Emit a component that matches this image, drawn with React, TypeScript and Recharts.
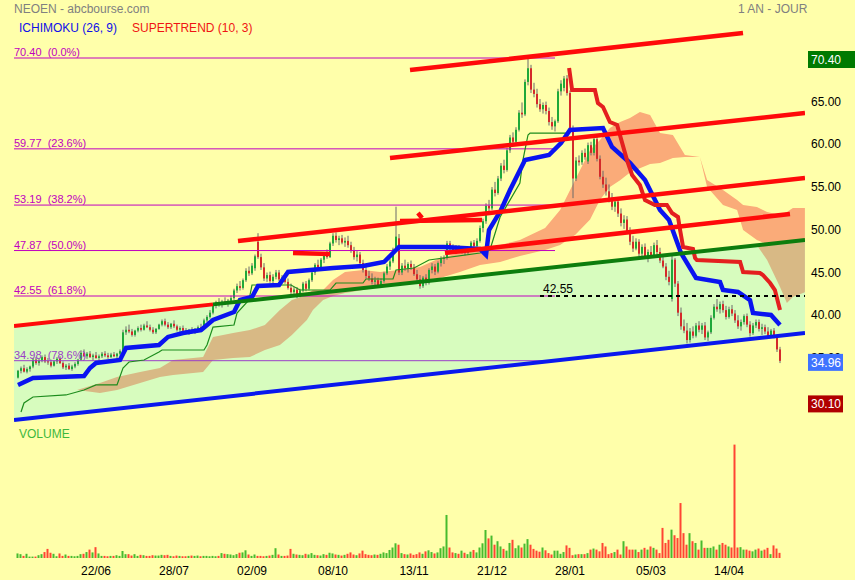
import React from "react";
import { ComposedChart, Bar, Line, Area, XAxis, YAxis, Cell, LabelList } from "recharts";

const W = 855;
const H = 580;
const BG = "#FFFFAA";
const FONT = "Arial, 'Liberation Sans', Helvetica, sans-serif";

// x runs in trading days; the plot spans a little past the last candle
const X_MIN = -4 / 3;
const X_MAX = 787 / 3;

const tickIdx = [26, 52, 78, 105, 132, 158, 184, 211, 237];
const tickLabels = ["22/06", "28/07", "02/09", "08/10", "13/11", "21/12", "28/01", "05/03", "14/04"];

// daily candles: open, high, low, close
const ohlc = [
  [33.0,33.9,32.9,33.8],[33.8,34.3,33.5,34.1],[34.1,34.5,33.6,33.7],[33.7,34.2,33.5,34.0],[34.0,34.4,33.7,34.3],[34.3,35.3,34.1,35.1],[35.1,35.4,34.5,34.7],[34.7,35.2,34.4,35.0],[35.0,35.6,34.8,35.4],[35.4,35.7,34.7,34.9],
  [34.9,35.3,34.5,34.8],[34.8,35.1,34.2,34.4],[34.4,35.0,34.3,34.9],[34.9,35.4,34.6,35.2],[35.2,35.5,34.6,34.7],[34.7,34.9,34.0,34.2],[34.2,34.6,33.9,34.4],[34.4,34.7,33.9,34.0],[34.0,34.5,33.8,34.3],[34.3,34.8,34.1,34.6],
  [34.6,35.2,34.4,35.1],[35.1,36.2,35.0,35.9],[35.9,36.3,35.4,35.5],[35.5,36.0,35.2,35.8],[35.8,36.1,35.3,35.4],[35.4,35.8,35.0,35.6],[35.6,36.0,35.2,35.3],[35.3,35.7,35.0,35.5],[35.5,36.0,35.3,35.8],[35.8,36.1,35.4,35.6],
  [35.6,35.9,35.2,35.4],[35.4,35.9,35.3,35.7],[35.7,36.0,35.4,35.5],[35.5,35.9,35.2,35.8],[35.8,36.3,35.6,36.1],[36.1,38.6,36.0,38.3],[38.3,39.0,38.0,38.6],[38.6,39.2,38.2,38.4],[38.4,38.7,37.8,38.0],[38.0,38.6,37.8,38.5],
  [38.5,39.0,38.3,38.8],[38.8,39.2,38.4,38.6],[38.6,39.3,38.5,39.1],[39.1,39.6,38.8,38.9],[38.9,39.2,38.4,38.6],[38.6,38.9,38.1,38.3],[38.3,38.8,38.1,38.7],[38.7,39.3,38.6,39.2],[39.2,39.8,39.0,39.6],[39.6,39.9,39.0,39.2],
  [39.2,39.5,38.7,38.9],[38.9,39.4,38.7,39.3],[39.3,39.7,38.8,39.0],[39.0,39.2,38.4,38.6],[38.6,39.0,38.3,38.8],[38.8,39.1,38.4,38.5],[38.5,38.8,38.1,38.3],[38.3,38.7,38.0,38.6],[38.6,38.9,38.2,38.4],[38.4,38.8,38.1,38.7],
  [38.7,39.1,38.5,38.9],[38.9,39.3,38.6,38.8],[38.8,39.9,38.7,39.7],[39.7,40.3,39.5,40.1],[40.1,40.9,39.9,40.6],[40.6,41.6,40.4,41.4],[41.4,42.0,41.1,41.8],[41.8,42.3,41.3,41.5],[41.5,42.1,41.2,41.9],[41.9,42.4,41.5,41.7],
  [41.7,42.2,41.3,42.0],[42.0,42.6,41.7,42.3],[42.3,43.4,42.1,43.2],[43.2,44.0,42.9,43.7],[43.7,44.3,43.2,43.5],[43.5,44.6,43.3,44.4],[44.4,45.8,44.2,45.5],[45.5,46.0,44.9,45.2],[45.2,46.4,45.0,46.1],[45.8,47.4,45.5,47.2],
  [48.9,49.9,46.9,47.1],[47.1,47.5,45.6,45.9],[45.9,46.4,44.3,44.6],[44.6,45.3,44.2,45.0],[45.0,45.4,44.1,44.3],[44.3,45.1,44.0,44.8],[44.8,45.6,44.5,45.3],[45.3,45.6,44.3,44.5],[44.5,45.0,44.1,44.7],[44.7,45.2,44.0,44.2],
  [44.2,44.6,43.3,43.5],[43.5,44.0,42.8,43.0],[43.0,43.6,42.5,43.3],[43.3,43.6,42.3,42.6],[42.6,43.4,42.4,43.2],[43.2,44.2,43.0,44.0],[44.0,44.3,43.1,43.4],[43.4,44.6,43.2,44.4],[44.4,45.5,44.2,45.3],[45.3,46.4,45.0,46.2],
  [46.2,46.8,45.6,45.9],[45.9,47.0,45.7,46.8],[46.8,47.6,46.4,47.3],[47.3,48.0,46.9,47.1],[47.1,48.9,47.0,48.7],[48.7,49.9,48.4,49.6],[49.6,50.0,48.8,49.1],[49.1,49.6,48.5,49.3],[49.3,49.7,48.6,48.8],[48.8,49.4,48.3,49.0],
  [49.0,49.6,48.2,48.5],[48.5,48.9,47.6,47.9],[47.9,48.3,46.8,47.1],[47.1,47.8,46.6,47.4],[47.4,47.7,46.2,46.4],[46.4,46.8,45.3,45.6],[45.6,46.1,44.6,44.9],[44.9,45.5,44.3,44.6],[44.6,45.2,43.9,44.2],[44.2,44.8,43.6,44.4],
  [44.4,44.7,43.5,43.8],[43.8,44.6,43.6,44.3],[44.3,45.4,44.1,45.2],[45.2,46.3,45.0,46.0],[46.0,46.9,45.6,46.6],[46.6,48.2,46.4,48.0],[48.0,53.0,47.8,49.5],[49.3,49.8,45.0,45.3],[45.3,46.4,45.0,46.1],[46.1,46.8,45.5,45.8],
  [45.8,46.5,45.3,46.3],[46.3,46.7,45.6,45.9],[45.9,46.3,44.9,45.1],[45.1,45.6,44.2,44.5],[44.5,45.0,43.4,43.7],[43.7,44.9,43.5,44.7],[44.7,45.1,43.8,44.1],[44.1,45.8,43.9,45.6],[45.6,46.4,45.2,46.0],[46.0,46.3,45.0,45.4],
  [45.4,46.6,45.2,46.4],[46.4,47.2,46.0,46.9],[46.9,47.3,46.3,47.0],[47.0,49.0,46.8,48.7],[48.7,49.0,47.8,48.1],[48.1,48.6,47.6,47.9],[47.9,48.5,47.6,48.2],[48.2,48.5,47.6,47.8],[47.8,48.4,47.5,48.1],[48.1,48.4,47.3,47.6],
  [47.6,48.2,47.4,48.0],[48.0,49.0,47.8,48.8],[48.8,49.1,48.1,48.4],[48.4,49.3,48.2,49.0],[49.0,50.8,48.8,50.5],[50.5,51.6,50.0,51.3],[51.3,53.4,51.0,53.1],[53.1,53.8,52.4,52.8],[52.8,55.3,52.6,55.0],[55.0,55.9,54.2,54.6],
  [54.6,56.6,54.4,56.3],[56.3,58.1,56.0,57.8],[57.8,58.5,56.9,57.3],[57.3,59.9,57.1,59.6],[59.6,61.4,59.3,61.1],[61.1,61.7,60.2,60.6],[60.6,62.3,60.4,62.0],[62.0,64.3,61.8,64.0],[64.0,65.2,63.4,63.8],[63.8,67.9,63.6,67.6],
  [67.6,70.4,67.2,69.2],[69.2,69.6,66.3,66.7],[66.7,67.5,65.8,66.2],[66.2,66.8,64.6,65.0],[65.0,65.6,64.1,64.4],[64.4,65.2,63.9,64.9],[64.9,65.3,63.8,64.2],[64.2,64.6,62.5,62.9],[62.9,63.5,62.0,62.4],[62.4,63.2,61.8,63.0],
  [63.0,66.8,62.8,66.5],[66.5,67.8,66.0,67.4],[66.9,68.3,66.5,68.0],[68.0,68.4,66.0,66.3],[66.3,66.6,61.8,62.1],[62.1,62.5,54.0,56.3],[56.3,58.8,56.0,58.4],[58.4,59.0,57.8,58.2],[58.2,59.6,57.9,59.3],[59.3,59.8,58.5,58.8],
  [58.3,60.5,58.0,60.2],[60.2,60.6,59.0,59.3],[59.3,61.3,59.0,60.9],[60.9,61.2,58.3,58.6],[58.6,59.0,56.2,56.5],[56.5,57.2,55.2,55.6],[55.6,56.4,54.3,54.8],[54.8,55.6,53.5,53.9],[53.9,54.6,52.6,53.0],[53.0,54.1,52.4,53.6],
  [53.6,54.0,51.8,52.2],[52.2,52.8,50.7,51.1],[51.1,52.0,50.4,51.5],[51.5,51.9,49.8,50.1],[50.1,50.6,48.5,48.9],[48.9,49.6,47.7,48.1],[48.1,49.3,47.9,48.9],[48.9,49.2,47.2,47.5],[47.5,48.6,47.2,48.3],[48.3,48.7,46.9,47.2],
  [47.2,48.0,46.5,47.7],[47.7,48.4,47.0,47.3],[47.3,48.8,47.1,48.5],[48.5,49.1,47.4,47.7],[47.7,48.2,46.4,46.7],[46.7,47.3,45.8,46.0],[46.0,46.4,44.4,44.8],[44.8,45.5,43.8,44.2],[42.2,47.3,41.9,46.8],[46.8,47.0,43.6,44.0],
  [44.0,44.3,40.2,40.6],[40.6,41.2,38.6,39.0],[39.0,39.8,38.2,38.5],[38.5,39.4,37.0,37.4],[37.4,38.8,37.1,38.4],[38.4,39.0,37.6,37.9],[37.9,39.4,37.7,39.1],[39.1,39.6,38.3,38.6],[38.6,39.4,38.1,39.1],[39.1,39.5,37.4,37.7],
  [37.7,38.5,37.3,38.3],[38.3,40.3,38.1,40.0],[40.0,41.6,39.8,41.3],[41.3,42.2,40.7,41.0],[41.0,41.9,40.5,41.6],[41.6,42.0,40.6,40.9],[40.9,41.4,39.8,40.1],[40.1,41.3,39.9,41.0],[41.0,41.5,40.2,40.5],[40.5,40.9,39.4,39.7],
  [39.7,40.3,38.7,39.0],[39.0,39.8,38.5,39.5],[39.5,40.4,39.2,40.2],[40.2,40.5,38.9,39.2],[39.2,39.6,37.8,38.2],[38.2,39.4,38.0,39.1],[39.1,39.8,38.8,39.5],[39.5,39.8,38.4,38.7],[38.7,39.3,38.0,38.9],[38.9,39.2,38.1,38.4],
  [38.4,38.9,37.6,37.9],[37.9,38.7,37.7,38.5],[38.5,38.8,37.6,37.8],[37.8,38.0,36.0,36.3],[36.3,36.6,34.7,34.96],
];

// daily volume, thousands of shares
const volumes = [
  130,110,60,120,40,40,40,80,110,170, 260,150,120,50,130,60,100,60,60,50,
  60,110,120,170,240,160,310,130,60,60, 50,60,60,80,60,200,110,110,70,110,
  60,90,80,60,60,80,70,70,90,80, 90,60,50,70,60,50,50,60,70,60,
  70,50,60,60,50,60,50,60,140,120, 110,100,80,110,150,160,220,100,60,100,
  60,60,50,60,70,90,280,100,60,60, 70,260,120,100,90,80,120,100,140,90,
  80,70,110,90,150,130,100,90,70,90, 120,160,100,80,130,210,110,90,80,100,
  90,120,160,140,230,300,420,380,140,110, 100,130,90,110,160,120,190,220,170,130,
  160,280,330,1230,300,160,140,120,210,150, 110,180,230,160,300,420,800,560,640,380,
  480,330,260,210,430,520,280,360,300,410, 540,380,260,210,180,300,220,140,100,210,
  210,120,170,360,290,80,100,110,110,110, 140,240,270,240,190,430,330,110,140,170,
  240,100,480,330,240,240,240,170,240,290, 240,330,290,240,140,860,430,520,810,650,
  570,1570,710,380,710,480,430,240,500,290, 290,290,330,240,380,430,380,330,300,3240,
  300,310,240,240,210,190,240,270,210,240, 290,110,360,270,147,
];

// Ichimoku fast line (thick blue): [day, price]
const tenkan = [
  [0,32.14],[5,32.96],[22,33.19],[24,34.13],[26,34.71],[34,35.06],[36,36.47],[47,36.82],[50,37.76],[55,38.22],
  [61,38.57],[65,39.74],[72,40.68],[74,42.08],[78,42.43],[80,43.72],[87,43.84],[90,45.36],[105,45.83],[115,46.06],
  [122,46.53],[126,47.93],[127,48.28],[142,48.28],[154,48.05],[156,47.35],[157,50.27],[161,52.61],[164,54.95],[169,58.46],
  [177,59.05],[181,60.45],[184,61.98],[195,62.21],[198,59.99],[204,58.12],[209,56.12],[214,52.61],[217,51.44],[221,47.58],
  [226,44.66],[234,44.19],[235,43.25],[240,43.02],[244,42.08],[245,40.56],[251,40.33],[254,39.16],
];

// Ichimoku slow line (thin green)
const kijun = [
  [1,28.98],[2,30.03],[5,30.73],[16,30.97],[22,31.55],[26,32.14],[33,32.14],[35,34.13],[37,34.83],[42,35.06],
  [47,36.0],[48,36.23],[62,36.23],[63,36.82],[65,38.92],[72,39.16],[73,40.56],[77,42.08],[78,43.84],[91,43.84],
  [94,43.25],[104,43.25],[106,44.07],[115,44.07],[116,44.54],[125,44.54],[126,45.59],[132,45.83],[137,46.76],[154,47.58],
  [157.3,47.93],[160.7,51.79],[167.3,55.77],[168.3,58.46],[170,61.39],[170.7,61.62],[183.3,61.62],
];

// Supertrend (10, 3)
const supertrend = [
  [183.7,69.23],[184.7,66.66],[192.3,66.66],[193.3,65.13],[195,64.67],[197.3,62.91],[199.7,62.56],[203,58.46],[204.7,56.71],
  [207.3,55.54],[209,53.78],[212.3,53.2],[216.3,53.2],[218,52.26],[220,51.79],[220.7,50.27],[221.7,48.28],[225,48.05],
  [225.7,47.0],[226.3,46.76],[240.7,46.53],[241.7,45.36],[247.3,45.24],[248.3,45.01],[250.7,44.07],[252.3,43.25],[254,40.91],
];

// Ichimoku cloud: [day, span A, span B]
const cloud = [
  [19.7,31.55,31.55],[27.3,32.37,31.2],[33,33.07,31.55],[40.7,33.66,32.37],[47.3,34.13,33.07],[51.7,35.06,33.31],
  [61.7,35.41,33.66],[65,37.75,35.06],[71.7,38.22,35.3],[77.3,38.57,35.41],[82.3,39.16,36.23],[87.3,40.91,36.82],
  [91.3,42.08,37.99],[96.3,42.67,39.74],[98.3,43.25,40.91],[101.7,43.25,42.08],[105,44.42,42.55],[109,45.36,42.9],
  [115,45.59,43.25],[120.7,45.36,43.6],[127.3,45.59,43.95],[134,45.94,44.42],[140.7,47.0,44.66],[147.3,47.58,45.36],
  [154,47.93,46.18],[160.7,48.52,46.53],[167.3,49.1,47.23],[175.7,50.51,47.93],[180.7,52.61,48.52],[185.7,56.12,49.69],
  [190.7,59.63,51.5],[194,60.8,53.8],[197.3,62.21,55.3],[200.7,62.91,56.1],[204,63.38,57.0],[207.3,64.08,57.5],
  [210.7,63.73,58.0],[214,61.62,58.11],[218.3,61.39,58.7],[222.3,59.05,58.82],[227.3,58.82,58.82],[229.7,56.12,55.31],
  [235,54.95,53.2],[239.7,53.78,52.61],[241.7,53.2,50.27],[246.3,52.97,49.1],[249.7,52.38,46.76],[254,52.03,43.6],
  [256.3,52.38,41.73],[258.3,52.85,42.43],[262.3,52.85,43.0],
];

// Fibonacci retracement of the 70.40 high
const fibLevels = [70.4, 59.77, 53.19, 47.87, 42.55, 34.98];
const fibPct = ["0.0%", "23.6%", "38.2%", "50.0%", "61.8%", "78.6%"];
const fibEnd = 179;
const pivotLevel = 42.55;
const pivotStart = 174;

// trend channel (green band): left / right ends
const channelLow = [[X_MIN, 28.04], [X_MAX, 38.22]];
const channelHigh = [[X_MIN, 39.04], [X_MAX, 49.1]];
const channelSplit = 65; // upper edge drawn red before this day, green after

// hand drawn red trend lines: [[day, price], [day, price]]
const redLines = [
  [[130.67, 68.99], [241.67, 73.33]],
  [[124, 58.7], [X_MAX, 63.96]],
  [[73.33, 48.99], [X_MAX, 56.36]],
  [[142.33, 47.58], [257.33, 52.15]],
  [[91.67, 47.58], [104, 47.47]],
  [[127.33, 51.33], [154.67, 51.44]],
  [[133.3, 52.26], [134.7, 51.68]],
];

const priceTicks = [35, 40, 45, 50, 55, 60, 65];
const priceMarks = [
  { v: 70.4, bg: "#007A00", w: 47 },
  { v: 34.96, bg: "#3F73FF", w: 35 },
  { v: 30.1, bg: "#B00000", w: 35 },
];
const volTicks = [2000, 147];
const volTickLabels = ["2 000K", "147.0K"];

const toPts = (arr: number[][]) => arr.map(([x, v]) => ({ x, v }));
const lineAt = (seg: number[][], x: number) =>
  seg[0][1] + ((seg[1][1] - seg[0][1]) * (x - seg[0][0])) / (seg[1][0] - seg[0][0]);

function Candle(props: any) {
  const { x, y, width, height, payload } = props;
  if (!payload || height == null) return null;
  const { o, h, l, c } = payload;
  const k = h > l ? height / (h - l) : 0;
  const px = Math.round(x + width / 2) - 1;
  const yo = y + (h - o) * k;
  const yc = y + (h - c) * k;
  const up = c >= o;
  return (
    <g>
      <line x1={px + 1} x2={px + 1} y1={y} y2={y + height} stroke="#6a6a6a" strokeWidth={1} />
      <rect x={px} y={Math.min(yo, yc)} width={2} height={Math.max(1, Math.abs(yo - yc))} fill={up ? "#1FA83A" : "#D42A2A"} />
    </g>
  );
}

function PriceTick(props: any) {
  const { y, payload } = props;
  const v = payload.value;
  const mark = priceMarks.find((m) => m.v === v);
  if (mark) {
    return (
      <g>
        <rect x={808} y={y - 7} width={mark.w} height={17} fill={mark.bg} />
        <text x={811} y={y + 5.8} fill="#fff" fontSize={12} fontFamily={FONT}>{v.toFixed(2)}</text>
      </g>
    );
  }
  return <text x={811} y={y + 1.6} fill="#000" fontSize={12} fontFamily={FONT}>{v.toFixed(2)}</text>;
}

function VolTick(props: any) {
  const { y, payload } = props;
  const i = volTicks.indexOf(payload.value);
  if (i === 1) {
    return (
      <g>
        <rect x={808} y={y - 7} width={46} height={17} fill="#009A00" />
        <text x={811} y={y + 5.8} fill="#fff" fontSize={12} fontFamily={FONT}>{volTickLabels[i]}</text>
      </g>
    );
  }
  return <text x={811} y={y + 1.6} fill="#000" fontSize={12} fontFamily={FONT}>{volTickLabels[i]}</text>;
}

const label = (left: number, top: number, color: string, text: string) => (
  <div style={{ position: "absolute", left, top, color, fontSize: 12, lineHeight: "14px", whiteSpace: "pre", fontFamily: FONT }}>{text}</div>
);

export default function App() {
  const rows = ohlc.map(([o, h, l, c], i) => ({ x: i, range: [l, h], o, h, l, c, vol: volumes[i] }));

  const channelData = [
    { x: channelLow[0][0], v: [channelLow[0][1], channelHigh[0][1]] },
    { x: channelLow[1][0], v: [channelLow[1][1], channelHigh[1][1]] },
  ];
  const splitPrice = lineAt(channelHigh, channelSplit);

  // cloud split by the channel's upper edge: salmon above it, tan inside the band
  const salmon = cloud.map(([x, a, b]) => {
    const u = lineAt(channelHigh, x);
    return { x, v: [Math.max(Math.min(a, b), u), Math.max(Math.max(a, b), u)] };
  });
  const tan = cloud.map(([x, a, b]) => {
    const u = lineAt(channelHigh, x);
    return { x, v: [Math.min(Math.min(a, b), u), Math.min(Math.max(a, b), u)] };
  });

  return (
    <div style={{ position: "absolute", left: 0, top: 0, width: W, height: H, background: BG, overflow: "hidden" }}>
      <ComposedChart width={W} height={H} data={rows} margin={{ top: 0, right: 0, bottom: 0, left: 14 }}>
        <XAxis dataKey="x" type="number" domain={[X_MIN, X_MAX]} allowDataOverflow ticks={tickIdx} interval={0}
          tickFormatter={(v: number) => tickLabels[tickIdx.indexOf(v)]} axisLine={false} tickLine={false} height={22}
          tick={{ fontSize: 12, fill: "#000", fontFamily: FONT }} />
        <XAxis xAxisId="xv" dataKey="x" type="number" domain={[X_MIN, X_MAX]} allowDataOverflow hide />
        <YAxis orientation="right" width={50} domain={[11.893, 77.187]} allowDataOverflow ticks={[...priceTicks, ...priceMarks.map((m) => m.v)]}
          interval={0} axisLine={false} tickLine={false} tick={<PriceTick />} />
        <YAxis yAxisId="v" orientation="left" width={0} domain={[0, 15943]} allowDataOverflow ticks={volTicks} interval={0}
          axisLine={false} tickLine={false} tick={<VolTick />} />

        <Area data={channelData} dataKey="v" type="linear" fill="#D7FCBE" fillOpacity={1} stroke="none" isAnimationActive={false} />
        <Area data={tan} dataKey="v" type="linear" fill="#D8B985" fillOpacity={1} stroke="none" isAnimationActive={false} />
        <Area data={salmon} dataKey="v" type="linear" fill="#FAAB79" fillOpacity={1} stroke="none" isAnimationActive={false} />

        {fibLevels.map((lvl, i) => (
          <Line key={"fib" + i} data={[{ x: X_MIN, v: lvl }, { x: fibEnd, v: lvl }]} dataKey="v" stroke={i === 5 ? "#9A3FC8" : "#C000C0"}
            strokeWidth={1} dot={false} isAnimationActive={false}>
            <LabelList dataKey="v" content={(p: any) => p.index === 0 ? (
              <text x={p.x} y={p.y - 2} fontSize={11} fontFamily={FONT} fill={i === 5 ? "#9A3FC8" : "#C000C0"} style={{ whiteSpace: "pre" }}>
                {lvl.toFixed(2) + "  (" + fibPct[i] + ")"}
              </text>) : null} />
          </Line>
        ))}

        <Bar dataKey="range" barSize={2} shape={<Candle />} isAnimationActive={false} />
        <Bar dataKey="vol" xAxisId="xv" yAxisId="v" barSize={2} isAnimationActive={false}>
          {rows.map((r, i) => <Cell key={i} fill={r.c >= r.o ? "#47BB2E" : "#FF4433"} />)}
        </Bar>

        <Line data={toPts(kijun)} dataKey="v" type="linear" stroke="#1C8C1C" strokeWidth={1.2} dot={false} isAnimationActive={false} />
        <Line data={toPts(tenkan)} dataKey="v" type="linear" stroke="#0A14F0" strokeWidth={4.5} dot={false} isAnimationActive={false} />
        <Line data={toPts(supertrend)} dataKey="v" type="linear" stroke="#E41F1F" strokeWidth={4} dot={false} isAnimationActive={false} />

        <Line data={toPts(channelLow)} dataKey="v" stroke="#0A18EE" strokeWidth={4} dot={false} isAnimationActive={false} />
        <Line data={[{ x: channelHigh[0][0], v: channelHigh[0][1] }, { x: channelSplit, v: splitPrice }]} dataKey="v" stroke="#FF0A0A" strokeWidth={4} dot={false} isAnimationActive={false} />
        <Line data={[{ x: channelSplit, v: splitPrice }, { x: channelHigh[1][0], v: channelHigh[1][1] }]} dataKey="v" stroke="#0D7D0D" strokeWidth={4} dot={false} isAnimationActive={false} />
        {redLines.map((seg, i) => (
          <Line key={"rl" + i} data={toPts(seg)} dataKey="v" stroke="#FF0A0A" strokeWidth={4.5} dot={false} isAnimationActive={false} />
        ))}

        <Line data={[{ x: pivotStart, v: pivotLevel }, { x: X_MAX, v: pivotLevel }]} dataKey="v" stroke="#000" strokeWidth={2}
          strokeDasharray="4 4" dot={false} isAnimationActive={false}>
          <LabelList dataKey="v" content={(p: any) => p.index === 0 ? (
            <text x={p.x + 3} y={p.y - 3} fontSize={12} fontFamily={FONT} fill="#000">{pivotLevel.toFixed(2)}</text>) : null} />
        </Line>
      </ComposedChart>

      {label(14, 2, "#808080", "NEOEN - abcbourse.com")}
      {label(738, 2, "#808080", "1 AN - JOUR")}
      {label(19, 21, "#1010E8", "ICHIMOKU (26, 9)")}
      {label(132, 21, "#F01414", "SUPERTREND (10, 3)")}
      {label(19, 427, "#3DB83D", "VOLUME")}
    </div>
  );
}
